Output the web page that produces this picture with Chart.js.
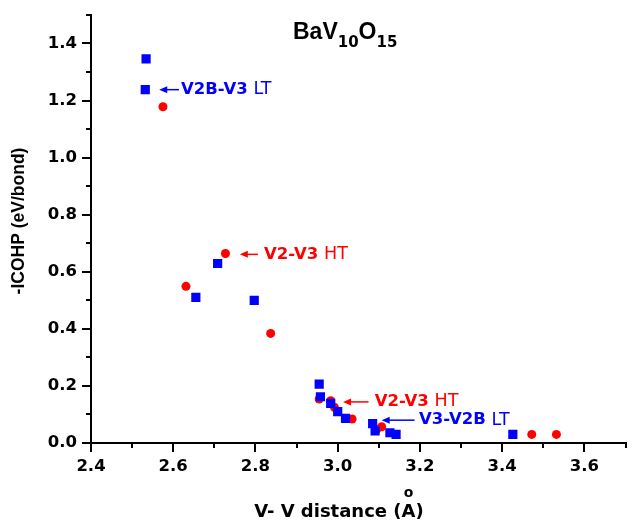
<!DOCTYPE html>
<html>
<head>
<meta charset="utf-8">
<script src="https://cdn.jsdelivr.net/npm/chart.js@4"></script>
<style>
  body { margin: 0; background: #fff; }
</style>
</head>
<body>
<canvas id="cohpChart" width="632" height="520"></canvas>
<script>
// LT phase (blue squares): V-V distance and -ICOHP
const ltDist = [2.534, 2.532, 2.708, 2.655, 2.797, 2.955, 2.958, 2.983, 3.000, 3.019, 3.085, 3.091, 3.127, 3.142, 3.426];
const ltCohp = [1.346, 1.238, 0.629, 0.510, 0.500, 0.206, 0.162, 0.139, 0.110, 0.086, 0.068, 0.042, 0.036, 0.030, 0.030];

// HT phase (red circles)
const htDist = [2.575, 2.727, 2.631, 2.837, 2.955, 2.983, 2.992, 3.035, 3.095, 3.107, 3.472, 3.532];
const htCohp = [1.178, 0.664, 0.549, 0.384, 0.154, 0.148, 0.125, 0.084, 0.048, 0.057, 0.030, 0.030];

// axis ticks
const xTicks = [2.4, 2.6, 2.8, 3.0, 3.2, 3.4, 3.6];
const yTicks = [0.0, 0.2, 0.4, 0.6, 0.8, 1.0, 1.2, 1.4];

// labels with arrows (arrow tip, arrow tail, text start, y) in data units
const noteBold = ['V2B-V3', 'V2-V3', 'V2-V3', 'V3-V2B'];
const noteRest = ['LT', 'HT', 'HT', 'LT'];
const noteColor = ['#0000ff', '#ff0000', '#ff0000', '#0000ff'];
const noteTipX = [2.566, 2.762, 3.013, 3.107];
const noteTailX = [2.614, 2.806, 3.075, 3.187];
const noteTextX = [2.619, 2.821, 3.090, 3.198];
const noteY = [1.238, 0.661, 0.144, 0.080];

const tickFont = { family: 'DejaVu Sans', size: 16.5, weight: 'bold' };

// minor ticks at the half steps, title, axis titles and arrow labels
const extrasPlugin = {
  id: 'extras',
  afterDraw(chart) {
    const ctx = chart.ctx;
    const xs = chart.scales.x;
    const ys = chart.scales.y;
    const area = chart.chartArea;

    ctx.save();
    ctx.strokeStyle = '#000';
    ctx.lineWidth = 2;
    for (let i = 0; i < xTicks.length; i++) {
      const v = xTicks[i] + 0.1;
      if (v > xs.max + 1e-9) continue;
      const px = Math.round(xs.getPixelForValue(v));
      ctx.beginPath();
      ctx.moveTo(px, area.bottom);
      ctx.lineTo(px, area.bottom + 5);
      ctx.stroke();
    }
    for (let i = 0; i < yTicks.length; i++) {
      const v = yTicks[i] + 0.1;
      if (v > ys.max + 1e-9) continue;
      const py = Math.round(ys.getPixelForValue(v));
      ctx.beginPath();
      ctx.moveTo(area.left, py);
      ctx.lineTo(area.left - 5, py);
      ctx.stroke();
    }

    // arrow labels
    for (let i = 0; i < noteBold.length; i++) {
      const tip = xs.getPixelForValue(noteTipX[i]);
      const tail = xs.getPixelForValue(noteTailX[i]);
      const tx = xs.getPixelForValue(noteTextX[i]);
      const py = ys.getPixelForValue(noteY[i]);
      ctx.strokeStyle = noteColor[i];
      ctx.fillStyle = noteColor[i];
      ctx.lineWidth = 1.5;
      ctx.beginPath();
      ctx.moveTo(tip + 5, py);
      ctx.lineTo(tail, py);
      ctx.stroke();
      ctx.beginPath();
      ctx.moveTo(tip, py);
      ctx.lineTo(tip + 8, py - 3.5);
      ctx.lineTo(tip + 8, py + 3.5);
      ctx.closePath();
      ctx.fill();

      ctx.textBaseline = 'middle';
      ctx.textAlign = 'left';
      ctx.font = 'bold 16.5px "DejaVu Sans"';
      ctx.fillText(noteBold[i], tx, py);
      const w = ctx.measureText(noteBold[i] + ' ').width;
      ctx.font = '17.5px "DejaVu Sans"';
      ctx.fillText(noteRest[i], tx + w, py);
    }

    // chart title BaV10O15
    ctx.fillStyle = '#000';
    ctx.textBaseline = 'alphabetic';
    ctx.textAlign = 'left';
    let x = 293;
    const parts = [['BaV', false], ['10', true], ['O', false], ['15', true]];
    parts.forEach(([t, sub]) => {
      ctx.font = sub ? 'bold 15px "DejaVu Sans"' : 'bold 23px "Liberation Sans"';
      ctx.fillText(t, x, sub ? 47 : 39);
      x += ctx.measureText(t).width;
    });

    // y axis title
    ctx.save();
    ctx.translate(24, 221);
    ctx.rotate(-Math.PI / 2);
    ctx.textAlign = 'center';
    ctx.textBaseline = 'alphabetic';
    ctx.font = 'bold 17.5px "Liberation Sans"';
    ctx.fillText('-ICOHP (eV/bond)', 0, 0);
    ctx.restore();

    // x axis title with the ring drawn above the A
    ctx.font = 'bold 18px "DejaVu Sans"';
    ctx.textAlign = 'left';
    ctx.textBaseline = 'alphabetic';
    const head = 'V- V distance (';
    const full = head + 'A)';
    const fw = ctx.measureText(full).width;
    const x0 = 339 - fw / 2;
    ctx.fillText(full, x0, 517);
    const aMid = x0 + ctx.measureText(head).width + ctx.measureText('A').width / 2;
    ctx.font = 'bold 14px "DejaVu Sans"';
    ctx.textAlign = 'center';
    ctx.fillText('o', aMid, 497);

    ctx.restore();
  }
};

const ctx = document.getElementById('cohpChart').getContext('2d');

new Chart(ctx, {
  type: 'scatter',
  data: {
    datasets: [
      {
        label: 'LT',
        data: ltDist.map((d, i) => ({ x: d, y: ltCohp[i] })),
        pointStyle: 'rect',
        pointRadius: 6.5,
        pointBorderWidth: 0,
        backgroundColor: '#0000ff',
        borderColor: '#0000ff'
      },
      {
        label: 'HT',
        data: htDist.map((d, i) => ({ x: d, y: htCohp[i] })),
        pointStyle: 'circle',
        pointRadius: 4.5,
        pointBorderWidth: 0,
        backgroundColor: '#ff0000',
        borderColor: '#ff0000'
      }
    ]
  },
  options: {
    responsive: false,
    animation: false,
    layout: { padding: { top: 14, right: 2, left: 0, bottom: 0 } },
    plugins: {
      legend: { display: false },
      tooltip: { enabled: false }
    },
    scales: {
      x: {
        type: 'linear',
        min: 2.4,
        max: 3.7,
        afterBuildTicks(scale) { scale.ticks = xTicks.map(v => ({ value: v })); },
        afterFit(scale) { scale.height = 77; },
        border: { display: true, color: '#000', width: 2 },
        grid: { drawOnChartArea: false, drawTicks: true, tickLength: 9, color: '#000', lineWidth: 2 },
        ticks: {
          autoSkip: false,
          maxRotation: 0,
          padding: 5,
          color: '#000',
          font: tickFont,
          callback: v => Number(v).toFixed(1)
        }
      },
      y: {
        type: 'linear',
        min: 0,
        max: 1.5,
        afterBuildTicks(scale) { scale.ticks = yTicks.map(v => ({ value: v })); },
        afterFit(scale) { scale.width = 91; },
        border: { display: true, color: '#000', width: 2 },
        grid: { drawOnChartArea: false, drawTicks: true, tickLength: 9, color: '#000', lineWidth: 2 },
        ticks: {
          autoSkip: false,
          padding: 5,
          color: '#000',
          font: tickFont,
          callback: v => Number(v).toFixed(1)
        }
      }
    }
  },
  plugins: [extrasPlugin]
});
</script>
</body>
</html>
